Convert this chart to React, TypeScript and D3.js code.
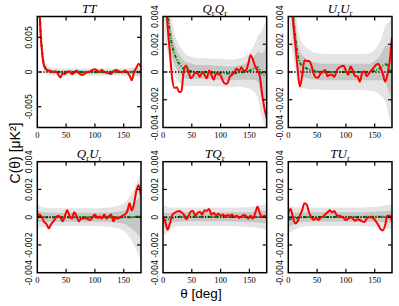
import * as d3 from 'd3'

// Two-point correlation functions C(theta), values in units of 1e-3 uK^2

// angular separation grid of the measured curves (deg)
const theta = [0, 4, 8, 12, 16, 20, 24, 28, 32, 36, 40, 44, 48, 52, 56, 60, 64, 68, 72, 76, 80, 84, 88, 92, 96, 100, 104, 108, 112, 116, 120, 124, 128, 132, 136, 140, 144, 148, 152, 156, 160, 164, 168, 172, 176, 180]

// measured (red)
const redTT = [30, 9, 3.0, 0.8, 0.3, 0.2, 0.1, 0.0, 0.1, -0.3, -0.8, -0.2, -0.3, 0.0, 0.1, -0.3, -0.1, 0.2, -0.1, -0.4, -0.4, -0.1, 0.0, 0.1, 0.3, 0.4, 0.2, 0.0, 0.3, 0.0, -0.1, -0.2, -0.3, 0.1, 0.3, 0.2, 0.0, 0.0, 0.2, 0.0, -0.5, -1.2, 0.0, 0.6, 1.2, 0.7]
const redQQ = [8, 6, 3.3, 1.4, -0.5, -1.15, -1.1, -1.45, -1.4, 0.1, 0.45, 0.1, -0.45, -0.3, -0.05, -0.1, -0.34, 0.0, -0.2, -0.45, 0.1, -0.2, -0.55, -0.1, -0.15, -0.25, -0.65, -0.85, -0.8, -0.35, -0.2, 0.0, 0.25, 0.05, 0.35, 0.1, 0.1, 0.6, 1.2, 0.9, 0.4, 0.1, -0.3, -1.6, -2.6, -3.35]
const redUU = [8, 6, 3.8, 2.1, 0.3, -1.05, -0.3, 0.85, 0.8, 0.8, 0.5, -0.1, -0.4, -0.4, -0.1, 0.0, 0.15, -0.3, -0.2, -0.2, -0.35, 0.1, 0.3, 0.4, 0.45, 0.1, -0.2, 0.4, 0.1, -0.3, -0.3, -0.7, -0.1, 0.05, -0.3, -0.1, 0.1, 0.3, 0.5, 0.6, 0.3, -0.1, -0.7, -0.2, 0.8, 2.5]
const redQU = [0.15, 0.2, 0.0, -0.35, -0.5, -0.8, -0.5, -0.3, -0.05, 0.1, 0.0, -0.3, 0.1, 0.5, 0.1, -0.1, 0.35, 0.1, -0.3, -0.1, -0.1, -0.05, -0.15, -0.2, 0.0, 0.2, -0.05, 0.05, -0.1, 0.2, -0.1, 0.05, 0.2, -0.3, 0.0, -0.1, 0.0, 0.1, 0.2, 0.4, 1.0, 0.5, 1.0, 1.9, 2.3, 1.5]
const redTQ = [0.0, -0.35, -0.9, -0.45, 0.15, 0.3, 0.4, 0.45, 0.35, 0.2, -0.15, 0.05, 0.4, 0.45, 0.1, 0.3, 0.4, 0.2, 0.5, 0.45, 0.6, 0.2, 0.3, 0.15, 0.25, 0.1, 0.2, 0.05, 0.15, 0.1, 0.2, 0.0, 0.1, -0.05, 0.05, 0.15, 0.1, -0.1, 0.1, -0.1, 0.3, 0.75, 0.3, 0.0, 0.1, 0.0]
const redTU = [0.3, 0.6, 0.0, -0.45, -0.3, 0.1, 0.5, 1.0, 0.9, 0.35, 0.0, -0.2, -0.05, -0.2, -0.05, 0.05, 0.2, 0.35, 0.5, 0.35, 0.45, 0.15, 0.1, 0.05, -0.05, -0.2, -0.1, 0.0, -0.1, -0.25, -0.15, -0.2, -0.3, -0.35, -0.1, 0.0, 0.0, -0.1, -0.3, -0.55, -0.85, -0.95, -0.6, 0.1, 0.1, -0.3]

// simulations: mean (green) and 1/2 sigma half widths (grey bands)
const thetaSim = [0, 4, 8, 12, 16, 20, 25, 30, 40, 50, 60, 70, 80, 90, 100, 110, 120, 130, 140, 150, 160, 165, 170, 175, 180]

const meanTT = [30, 10, 3.5, 1.0, 0.35, 0.15, 0.05, 0.02, 0, 0, 0, 0, 0, 0, 0, 0, 0, 0, 0, 0, 0, 0, 0, 0, 0]
const sig1TT = [4, 1.5, 0.6, 0.4, 0.32, 0.3, 0.28, 0.27, 0.26, 0.25, 0.25, 0.25, 0.25, 0.25, 0.25, 0.25, 0.25, 0.25, 0.26, 0.27, 0.3, 0.32, 0.35, 0.38, 0.42]
const sig2TT = [8, 3, 1.2, 0.8, 0.65, 0.6, 0.56, 0.54, 0.52, 0.5, 0.5, 0.5, 0.5, 0.5, 0.5, 0.5, 0.5, 0.5, 0.52, 0.55, 0.6, 0.65, 0.7, 0.76, 0.84]

const meanQQ = [12, 6.5, 4.3, 2.8, 1.9, 1.3, 0.8, 0.5, 0.12, 0.05, 0.0, 0.0, 0.0, -0.05, -0.05, -0.1, -0.1, -0.05, 0.0, 0.1, 0.3, 0.35, -0.05, -0.2, -0.1]
const sig1QQ = [3, 2.2, 1.4, 1.0, 0.85, 0.75, 0.7, 0.65, 0.6, 0.55, 0.5, 0.5, 0.5, 0.5, 0.5, 0.5, 0.5, 0.5, 0.55, 0.65, 0.9, 1.1, 1.4, 1.7, 2.0]
const sig2QQ = [6, 4.5, 2.8, 2.0, 1.7, 1.5, 1.4, 1.3, 1.15, 1.05, 1.0, 1.0, 1.0, 1.0, 1.0, 1.0, 1.0, 1.0, 1.1, 1.3, 1.8, 2.3, 2.9, 3.5, 4.0]

const meanUU = [12, 7, 4.2, 2.6, 1.3, 0.7, 0.42, 0.3, 0.12, 0.05, 0.0, 0.0, 0.0, 0.0, 0.0, 0.0, 0.0, 0.0, 0.0, 0.1, 0.3, 0.5, 0.55, 0.2, 0.0]
const sig1UU = [3, 2.2, 1.5, 1.1, 0.9, 0.8, 0.75, 0.7, 0.65, 0.6, 0.6, 0.6, 0.6, 0.6, 0.6, 0.6, 0.6, 0.6, 0.6, 0.7, 0.9, 1.1, 1.4, 1.7, 2.0]
const sig2UU = [6, 4.5, 3.0, 2.3, 1.9, 1.7, 1.6, 1.5, 1.4, 1.3, 1.3, 1.3, 1.3, 1.3, 1.3, 1.3, 1.3, 1.3, 1.35, 1.5, 2.0, 2.4, 2.9, 3.4, 4.0]

const meanQU = [0.05, 0.05, 0.02, 0, 0, 0, 0, 0, 0, 0, 0, 0, 0, 0, 0, 0, 0, 0, 0, 0, 0, 0, 0.02, 0.05, 0.05]
const sig1QU = [0.45, 0.4, 0.37, 0.35, 0.34, 0.33, 0.33, 0.32, 0.32, 0.32, 0.32, 0.32, 0.32, 0.32, 0.32, 0.33, 0.34, 0.36, 0.4, 0.48, 0.7, 0.85, 1.05, 1.3, 1.6]
const sig2QU = [0.9, 0.8, 0.74, 0.7, 0.68, 0.66, 0.65, 0.64, 0.64, 0.64, 0.64, 0.64, 0.64, 0.64, 0.64, 0.66, 0.68, 0.72, 0.8, 1.0, 1.45, 1.8, 2.2, 2.7, 3.2]

const meanTQ = [-0.2, -0.2, -0.15, -0.1, -0.05, 0.0, 0.02, 0.03, 0.03, 0.03, 0.03, 0.03, 0.03, 0.03, 0.03, 0.03, 0.02, 0.02, 0.02, 0.02, 0.02, 0.02, 0.02, 0.02, 0.02]
const sig1TQ = [0.55, 0.5, 0.45, 0.4, 0.37, 0.35, 0.34, 0.33, 0.33, 0.33, 0.33, 0.33, 0.33, 0.33, 0.33, 0.33, 0.33, 0.34, 0.35, 0.36, 0.38, 0.4, 0.42, 0.44, 0.46]
const sig2TQ = [1.1, 1.0, 0.9, 0.8, 0.74, 0.7, 0.68, 0.66, 0.66, 0.66, 0.66, 0.66, 0.66, 0.66, 0.66, 0.66, 0.66, 0.68, 0.7, 0.72, 0.76, 0.8, 0.84, 0.88, 0.92]

const meanTU = [-0.15, -0.15, -0.12, -0.08, -0.05, -0.02, 0, 0.01, 0.02, 0.02, 0.02, 0.02, 0.02, 0.02, 0.02, 0.02, 0.02, 0.02, 0.03, 0.03, 0.03, 0.03, 0.03, 0.03, 0.03]
const sig1TU = [0.5, 0.47, 0.44, 0.4, 0.37, 0.35, 0.34, 0.33, 0.33, 0.33, 0.33, 0.33, 0.33, 0.33, 0.33, 0.33, 0.33, 0.34, 0.35, 0.36, 0.38, 0.4, 0.42, 0.44, 0.45]
const sig2TU = [1.0, 0.94, 0.88, 0.8, 0.74, 0.7, 0.68, 0.66, 0.66, 0.66, 0.66, 0.66, 0.66, 0.66, 0.66, 0.66, 0.66, 0.68, 0.7, 0.72, 0.76, 0.8, 0.84, 0.87, 0.9]

// axes
const xTicks = [0, 50, 100, 150]
const ttTicks = [-5, 0, 5]
const ttTickLabels = ['-0.005', '0', '0.005']
const polTicks = [-4, -2, 0, 2, 4]
const polTickLabels = ['-0.004', '-0.002', '0', '0.002', '0.004']

type Letter = [string, string]
type PanelCfg = {
  title: Letter[]
  red: number[]
  mean: number[]
  sig1: number[]
  sig2: number[]
  lim: number
  ticks: number[]
  labels: string[]
}

const panels: PanelCfg[] = [
  { title: [['T', ''], ['T', '']], red: redTT, mean: meanTT, sig1: sig1TT, sig2: sig2TT, lim: 8, ticks: ttTicks, labels: ttTickLabels },
  { title: [['Q', 'r'], ['Q', 'r']], red: redQQ, mean: meanQQ, sig1: sig1QQ, sig2: sig2QQ, lim: 4, ticks: polTicks, labels: polTickLabels },
  { title: [['U', 'r'], ['U', 'r']], red: redUU, mean: meanUU, sig1: sig1UU, sig2: sig2UU, lim: 4, ticks: polTicks, labels: polTickLabels },
  { title: [['Q', 'r'], ['U', 'r']], red: redQU, mean: meanQU, sig1: sig1QU, sig2: sig2QU, lim: 4, ticks: polTicks, labels: polTickLabels },
  { title: [['T', ''], ['Q', 'r']], red: redTQ, mean: meanTQ, sig1: sig1TQ, sig2: sig2TQ, lim: 4, ticks: polTicks, labels: polTickLabels },
  { title: [['T', ''], ['U', 'r']], red: redTU, mean: meanTU, sig1: sig1TU, sig2: sig2TU, lim: 4, ticks: polTicks, labels: polTickLabels },
]

const colX = [37.3, 163, 288.3]
const rowY = [16.5, 161.7]
const panelW = 103.7
const panelH = 111

const serif = '"Liberation Serif", "DejaVu Serif", serif'
const sans = '"DejaVu Sans", sans-serif'

function Panel({ cfg, idx }: { cfg: PanelCfg; idx: number }) {
  const x0 = colX[idx % 3]
  const y0 = rowY[Math.floor(idx / 3)]
  const x = d3.scaleLinear().domain([0, 180]).range([x0, x0 + panelW])
  const y = d3.scaleLinear().domain([-cfg.lim, cfg.lim]).range([y0 + panelH, y0])

  const sim = thetaSim.map((t, i) => ({ t, m: cfg.mean[i], s1: cfg.sig1[i], s2: cfg.sig2[i] }))
  const obs = theta.map((t, i) => ({ t, v: cfg.red[i] }))

  const band = (k: 's1' | 's2') =>
    d3
      .area<(typeof sim)[number]>()
      .x((d) => x(d.t))
      .y0((d) => y(d.m - d[k]))
      .y1((d) => y(d.m + d[k]))
      .curve(d3.curveMonotoneX)(sim) || undefined

  const meanLine = d3
    .line<(typeof sim)[number]>()
    .x((d) => x(d.t))
    .y((d) => y(d.m))
    .curve(d3.curveMonotoneX)(sim) || undefined

  const redLine = d3
    .line<(typeof obs)[number]>()
    .x((d) => x(d.t))
    .y((d) => y(d.v))
    .curve(d3.curveMonotoneX)(obs) || undefined

  const clipId = `clip-${idx}`
  const tick = 4
  const x1 = x0 + panelW
  const y1 = y0 + panelH

  return (
    <g>
      <defs>
        <clipPath id={clipId}>
          <rect x={x0} y={y0} width={panelW} height={panelH} />
        </clipPath>
      </defs>
      <g clipPath={`url(#${clipId})`}>
        <path d={band('s2')} fill="#e4e4e4" />
        <path d={band('s1')} fill="#c6c6c6" />
        <path d={meanLine} fill="none" stroke="#008000" strokeWidth={2} strokeDasharray="3.5 1.5 1 1.5" />
        <line x1={x0} x2={x1} y1={y(0)} y2={y(0)} stroke="#000" strokeWidth={1.3} strokeDasharray="1.3 1.7" />
        <path d={redLine} fill="none" stroke="#ff0000" strokeWidth={2} strokeLinejoin="round" />
      </g>

      {/* ticks on all four sides, pointing inward */}
      {xTicks.slice(1).map((t) => (
        <g key={`xt${t}`} stroke="#000" strokeWidth={1.2}>
          <line x1={x(t)} x2={x(t)} y1={y1} y2={y1 - tick} />
          <line x1={x(t)} x2={x(t)} y1={y0} y2={y0 + tick} />
        </g>
      ))}
      {cfg.ticks
        .filter((t) => Math.abs(t) < cfg.lim)
        .map((t) => (
          <g key={`yt${t}`} stroke="#000" strokeWidth={1.2}>
            <line x1={x0} x2={x0 + tick} y1={y(t)} y2={y(t)} />
            <line x1={x1} x2={x1 - tick} y1={y(t)} y2={y(t)} />
          </g>
        ))}
      <rect x={x0} y={y0} width={panelW} height={panelH} fill="none" stroke="#000" strokeWidth={1.5} />

      {xTicks.map((t) => (
        <text key={`xl${t}`} x={x(t)} y={y1 + 10.6} textAnchor="middle" fontFamily={serif} fontSize={8.5}>
          {t}
        </text>
      ))}
      {cfg.ticks.map((t, i) => (
        <text
          key={`yl${t}`}
          transform={`translate(${x0 - 5},${y(t)}) rotate(-90)`}
          textAnchor="middle"
          fontFamily={sans}
          fontSize={8}
        >
          {cfg.labels[i]}
        </text>
      ))}

      <text x={x0 + panelW / 2} y={y0 - 3.5} textAnchor="middle" fontFamily={serif} fontSize={13}>
        {cfg.title.flatMap(([letter, sub], i) => {
          const prevSub = i > 0 && cfg.title[i - 1][1] !== ''
          const parts = [
            <tspan key={`l${i}`} fontStyle="italic" dy={prevSub ? -2.5 : 0}>
              {letter}
            </tspan>,
          ]
          if (sub)
            parts.push(
              <tspan key={`s${i}`} fontSize={9} dy={2.5}>
                {sub}
              </tspan>
            )
          return parts
        })}
      </text>
    </g>
  )
}

export default function App() {
  return (
    <svg
      width={399}
      height={306}
      style={{ position: 'absolute', left: 0, top: 0, background: '#fff' }}
    >
      {panels.map((p, i) => (
        <Panel key={i} cfg={p} idx={i} />
      ))}
      <text x={201} y={298} textAnchor="middle" fontFamily='"Liberation Sans", Arial, sans-serif' fontSize={13.5}>
        θ [deg]
      </text>
      <text
        transform="translate(20,153) rotate(-90)"
        textAnchor="middle"
        fontFamily='"Liberation Sans", Arial, sans-serif'
        fontSize={14}
      >
        C(θ) [μK²]
      </text>
    </svg>
  )
}
